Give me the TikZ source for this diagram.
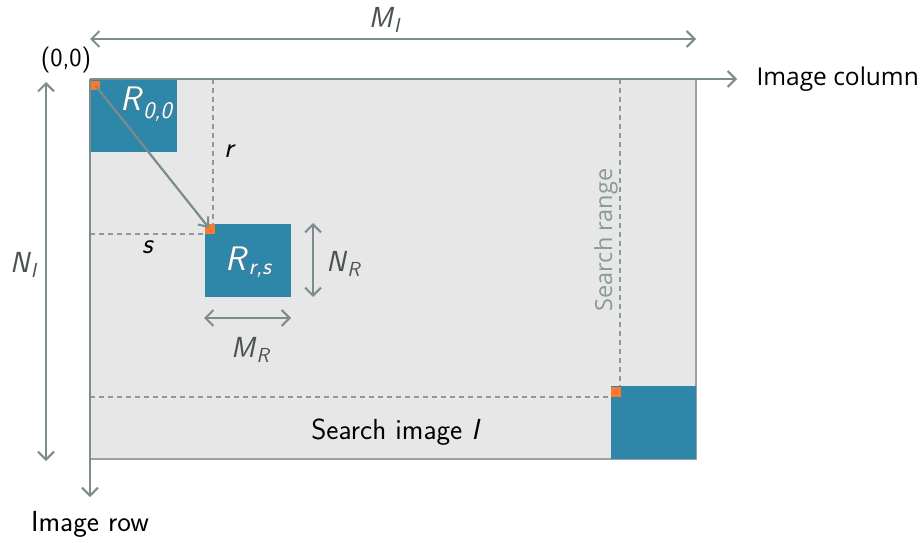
\documentclass[tikz,border=0pt]{standalone}
\usepackage{fontspec}
\newfontfamily\uifont{Open Sans}
\usetikzlibrary{arrows.meta}
\definecolor{axisgray}{HTML}{7B8C8C}
\definecolor{labelgray}{HTML}{4A5253}
\definecolor{dashgray}{HTML}{8A9999}
\definecolor{imgfill}{HTML}{E7E7E7}
\definecolor{blockblue}{HTML}{2E86A8}
\definecolor{pixorange}{HTML}{F97A2E}
\newcommand{\lbl}[2]{\textit{#1}\textsubscript{\textit{#2}}}
\begin{document}
\begin{tikzpicture}[x=1pt,y=-1pt,
  font=\sffamily\fontsize{29}{33}\selectfont,
  axis/.style={draw=axisgray,line width=2.8pt,-{Straight Barb[length=8pt,width=16pt,line width=2pt]}},
  dimarrow/.style={draw=axisgray,line width=2.2pt,{Straight Barb[length=8pt,width=16pt,line width=2pt]}-{Straight Barb[length=8pt,width=16pt,line width=2pt]}},
  guide/.style={draw=dashgray,line width=1.2pt,dash pattern=on 5pt off 4pt},
  block/.style={fill=blockblue,draw=none},
  pix/.style={fill=pixorange,draw=none},
  blocklabel/.style={text=white,font=\sffamily\fontsize{34}{38}\selectfont},
  blockshade/.style={text=black!55,opacity=0.5,font=\sffamily\fontsize{34}{38}\selectfont},
  dimlabel/.style={text=labelgray}]
\useasboundingbox (0,0) rectangle (922,543);

% search image
\fill[imgfill] (90,79) rectangle (696,459);
\draw[draw=axisgray!80,line width=1.2pt] (90,459) -- (696,459) -- (696,79);

% guides for the offsets and the search range
\draw[guide] (213,79) -- (213,224);
\draw[guide] (90,234) -- (205,234);
\draw[guide] (620,79) -- (620,387);
\draw[guide] (90,397) -- (611,397);

% template blocks
\fill[block] (90,79) rectangle (177,152);
\fill[block] (205,224) rectangle (291,297);
\fill[block] (611,386) rectangle (696,459);
\fill[pix] (91,81) rectangle (100,90);
\fill[pix] (205,224) rectangle (215,234);
\fill[pix] (611,387) rectangle (621,397);

\coordinate (p00) at (95.5,85.5);
\coordinate (prs) at (209,228);
\draw[draw=axisgray,line width=2.2pt,-{Straight Barb[length=8pt,width=13pt,line width=2pt]}] (p00) -- (prs);

% block names with a soft shadow
\node[blockshade] at (148.5,105.5) {\lbl{R}{0,0}};
\node[blocklabel] (r00) at (147,104) {\lbl{R}{0,0}};
\node[blockshade] at (250.5,263.5) {\lbl{R}{r,s}};
\node[blocklabel] (rrs) at (249,262) {\lbl{R}{r,s}};

% axes
\coordinate (origin) at (90,79);
\coordinate (colend) at (737,79);
\coordinate (rowend) at (90,497);
\draw[axis] (origin) -- (colend);
\draw[axis] (origin) -- (rowend);
\node[anchor=west,font=\uifont\fontsize{24.5}{28}\selectfont] (colname) at (753,79) {Image column};
\node (rowname) at (90,524) {Image row};
\node[font=\sffamily\fontsize{26}{30}\selectfont] (orig) at (66,60) {(0,0)};

% image dimensions
\coordinate (mil) at (90,39);
\coordinate (mir) at (696,39);
\draw[dimarrow] (mil) -- (mir);
\node[dimlabel] (mi) at (385,20) {\lbl{M}{I}};
\coordinate (nit) at (46,82);
\coordinate (nib) at (46,461);
\draw[dimarrow] (nit) -- (nib);
\node[dimlabel] (ni) at (24,265) {\lbl{N}{I}};

% block dimensions
\coordinate (nrt) at (313,223);
\coordinate (nrb) at (313,297);
\draw[dimarrow] (nrt) -- (nrb);
\node[dimlabel] (nr) at (344,264) {\lbl{N}{R}};
\coordinate (mrl) at (204,318);
\coordinate (mrr) at (291,318);
\draw[dimarrow] (mrl) -- (mrr);
\node[dimlabel] (mr) at (251,350) {\lbl{M}{R}};

% offsets
\node (r) at (230,151) {\textit{r}};
\node (s) at (148,247) {\textit{s}};

\node[rotate=90,text=dashgray,font=\uifont\fontsize{23.5}{27}\selectfont] (range) at (606,240) {Search range};
\node (simg) at (396,432) {Search image \textit{I}};
\end{tikzpicture}
\end{document}
